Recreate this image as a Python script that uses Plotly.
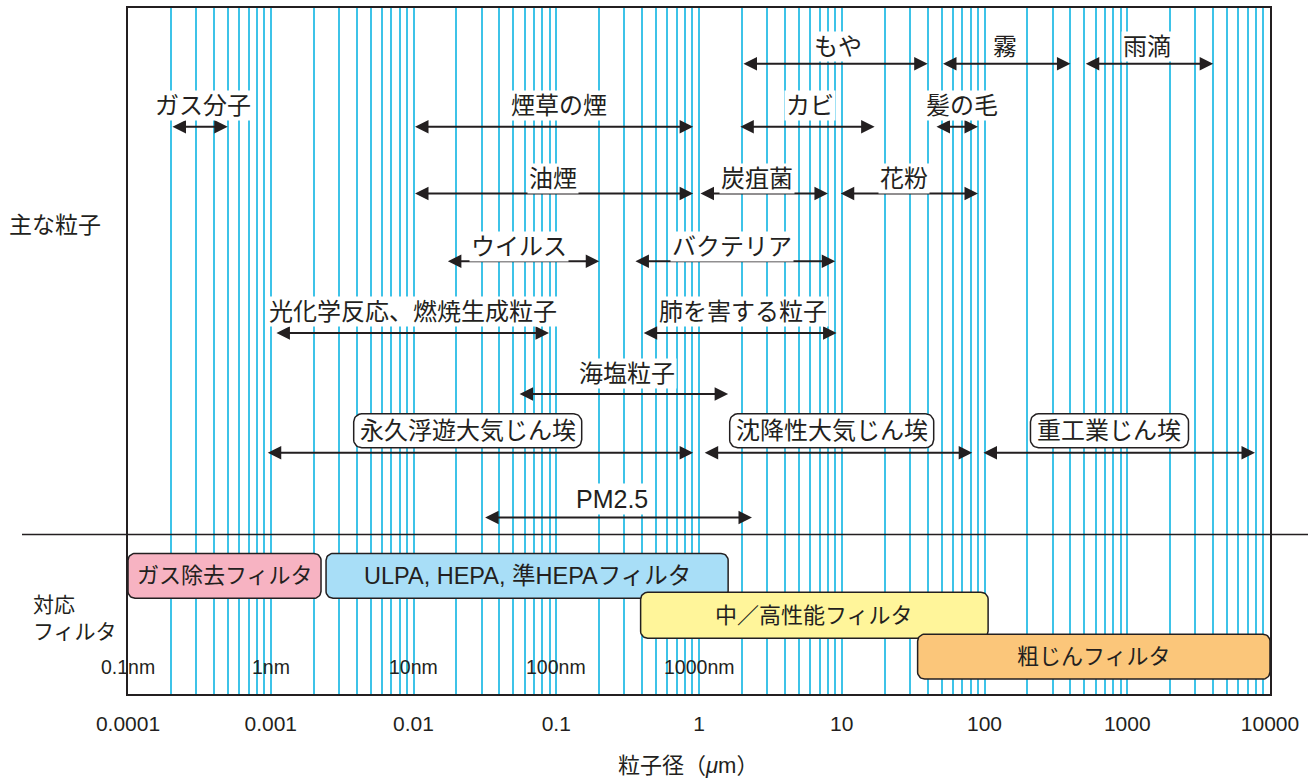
import numpy as np
import plotly.graph_objects as go

# ---------------- data ----------------
particle_names = ["もや", "霧", "雨滴",
                  "ガス分子", "煙草の煙", "カビ", "髪の毛",
                  "油煙", "炭疽菌", "花粉",
                  "ウイルス", "バクテリア",
                  "光化学反応、燃焼生成粒子", "肺を害する粒子",
                  "海塩粒子",
                  "永久浮遊大気じん埃", "沈降性大気じん埃", "重工業じん埃",
                  "PM2.5"]
particle_min_um = [2, 50, 500,
                   0.0002, 0.01, 1.9, 45,
                   0.01, 1.0, 9.6,
                   0.017, 0.35,
                   0.00107, 0.4,
                   0.054,
                   0.00093, 1.07, 96,
                   0.031]
particle_max_um = [40, 400, 4000,
                   0.0005, 0.91, 17, 90,
                   0.91, 8, 90,
                   0.2, 9,
                   0.089, 9.2,
                   1.6,
                   0.91, 82, 7850,
                   2.35]
particle_row = [0, 0, 0,
                1, 1, 1, 1,
                2, 2, 2,
                3, 3,
                4, 4,
                5,
                6, 6, 6,
                7]
boxed_names = ["永久浮遊大気じん埃", "沈降性大気じん埃", "重工業じん埃"]

filter_names = ["ガス除去フィルタ", "ULPA, HEPA, 準HEPAフィルタ", "中／高性能フィルタ", "粗じんフィルタ"]
filter_min_um = [0.0001, 0.00244, 0.39, 34]
filter_max_um = [0.00225, 1.6, 106, 10000]
filter_colors = ["#F7B3C2", "#A8DEF7", "#FFF59A", "#FBC67A"]

tick_decades = [1e-4, 1e-3, 1e-2, 1e-1, 1, 10, 100, 1000, 10000]
tick_labels = ["0.0001", "0.001", "0.01", "0.1", "1", "10", "100", "1000", "10000"]
nm_positions_um = [1e-4, 1e-3, 1e-2, 1e-1, 1]
nm_labels = ["0.1nm", "1nm", "10nm", "100nm", "1000nm"]

# ---------------- layout / style ----------------
W, H = 1314, 782
ML, MR, MT, MB = 128, 44, 6, 88
PX_PER_DECADE = (W - ML - MR) / 8.0
row_arrow_y = [62, 125, 192, 260, 332, 393, 452, 517]
row_label_y = [45, 104, 177, 245, 310, 373, 430, 498]
label_xshift = {"もや": 3, "霧": -1, "雨滴": -2, "ガス分子": 4, "煙草の煙": 6, "カビ": 3,
                "髪の毛": 6, "油煙": 0, "炭疽菌": -6, "花粉": -5, "ウイルス": -4,
                "バクテリア": -3, "光化学反応、燃焼生成粒子": 1, "肺を害する粒子": 4,
                "海塩粒子": 4, "永久浮遊大気じん埃": -12, "沈降性大気じん埃": -6,
                "重工業じん埃": -9, "PM2.5": -6}
label_size = {"PM2.5": 25}
boxed_width_px = {"永久浮遊大気じん埃": 228, "沈降性大気じん埃": 204, "重工業じん埃": 158}
boxed_height = (413, 447)
filter_rows = [(553, 598), (553, 598), (592, 638), (634, 679)]
filter_text_size = [22, 23.5, 22, 22]

INK = "#231F20"
GRID = "#3EC3E8"
JP = "Noto Sans CJK JP"
LAT = "Liberation Sans, Arial, Noto Sans CJK JP"


def rounded_rect(lx0, lx1, y0, y1, r_px=7, n=10):
    rx = r_px / PX_PER_DECADE
    ry = r_px
    t = np.linspace(0, np.pi / 2, n)
    xs, ys = [], []
    cx, cy = lx1 - rx, y0 + ry
    xs += list(cx + rx * np.sin(t)); ys += list(cy - ry * np.cos(t))
    cx, cy = lx1 - rx, y1 - ry
    xs += list(cx + rx * np.cos(t)); ys += list(cy + ry * np.sin(t))
    cx, cy = lx0 + rx, y1 - ry
    xs += list(cx - rx * np.sin(t)); ys += list(cy + ry * np.cos(t))
    cx, cy = lx0 + rx, y0 + ry
    xs += list(cx - rx * np.cos(t)); ys += list(cy - ry * np.sin(t))
    xs.append(xs[0]); ys.append(ys[0])
    return [10 ** v for v in xs], ys


fig = go.Figure()
annotations = []

# filter boxes
for i, (name, lo, hi, col) in enumerate(zip(filter_names, filter_min_um, filter_max_um,
                                            filter_colors)):
    y0, y1 = filter_rows[i]
    xs, ys = rounded_rect(np.log10(lo), np.log10(hi), y0, y1)
    fig.add_trace(go.Scatter(x=xs, y=ys, mode="lines", fill="toself", fillcolor=col,
                             line=dict(color=INK, width=1.5), hoverinfo="skip",
                             showlegend=False))
    annotations.append(dict(x=(np.log10(lo) + np.log10(hi)) / 2, y=(y0 + y1) / 2,
                            xref="x", yref="y", text=name, showarrow=False,
                            font=dict(family=LAT, size=filter_text_size[i], color=INK)))

# boxed label frames
for name, lo, hi, row in zip(particle_names, particle_min_um, particle_max_um, particle_row):
    if name in boxed_names:
        cx = (np.log10(lo) + np.log10(hi)) / 2 + label_xshift[name] / PX_PER_DECADE
        hw = boxed_width_px[name] / 2 / PX_PER_DECADE
        xs, ys = rounded_rect(cx - hw, cx + hw, boxed_height[0], boxed_height[1], r_px=8)
        fig.add_trace(go.Scatter(x=xs, y=ys, mode="lines", fill="toself", fillcolor="white",
                                 line=dict(color=INK, width=1.5), hoverinfo="skip",
                                 showlegend=False))

# arrows and labels
for name, lo, hi, row in zip(particle_names, particle_min_um, particle_max_um, particle_row):
    ya = row_arrow_y[row]
    annotations.append(dict(x=np.log10(hi), y=ya, ax=np.log10(lo), ay=ya,
                            xref="x", yref="y", axref="x", ayref="y", text="",
                            showarrow=True, arrowhead=2, arrowside="end+start",
                            arrowsize=1.35, arrowwidth=2, arrowcolor=INK,
                            standoff=0, startstandoff=0))
    boxed = name in boxed_names
    annotations.append(dict(x=(np.log10(lo) + np.log10(hi)) / 2, y=row_label_y[row],
                            xshift=label_xshift[name], xref="x", yref="y", text=name,
                            showarrow=False, bgcolor=None if boxed else "white",
                            borderpad=1,
                            font=dict(family=LAT, size=label_size.get(name, 24), color=INK)))

# nm labels
for pos, lab in zip(nm_positions_um, nm_labels):
    annotations.append(dict(x=np.log10(pos), y=667, xref="x", yref="y", text=lab,
                            showarrow=False, font=dict(family=LAT, size=19.5, color=INK)))

# left side labels
annotations.append(dict(x=0, xref="paper", xanchor="left", xshift=-121, y=222, yref="y",
                        text="主な粒子", showarrow=False,
                        font=dict(family=JP, size=23, color=INK)))
annotations.append(dict(x=0, xref="paper", xanchor="left", xshift=-97, y=616, yref="y",
                        text="対応<br>フィルタ", align="left", showarrow=False,
                        font=dict(family=JP, size=21, color=INK)))
# axis title
annotations.append(dict(x=0.5, xref="paper", xshift=-11, y=0, yref="paper", yanchor="middle",
                        yshift=-71, text="粒子径（<i>μ</i>m）", showarrow=False,
                        font=dict(family=LAT, size=22, color=INK)))

# grid tick values (1..9 x 10^n)
grid_vals, grid_text = [], []
for d, lab in zip(tick_decades, tick_labels):
    grid_vals.append(d); grid_text.append(lab)
    if d < 10000:
        for k in range(2, 10):
            grid_vals.append(k * d); grid_text.append("")

fig.update_layout(
    width=W, height=H,
    margin=dict(l=ML, r=MR, t=MT, b=MB),
    paper_bgcolor="white", plot_bgcolor="white",
    showlegend=False,
    annotations=annotations,
    shapes=[dict(type="line", xref="paper", yref="y", x0=-106 / (W - ML - MR),
                 x1=1 + 38 / (W - ML - MR), y0=534, y1=534,
                 line=dict(color=INK, width=1.5))],
    xaxis=dict(type="log", range=[-4, 4], tickmode="array", tickvals=grid_vals,
               ticktext=grid_text, showgrid=True, gridcolor=GRID, gridwidth=1.5,
               ticks="outside", ticklen=10, tickcolor="rgba(0,0,0,0)",
               tickfont=dict(family=LAT, size=21, color=INK),
               showline=True, mirror=True, linecolor=INK, linewidth=1.5,
               zeroline=False, fixedrange=True),
    yaxis=dict(range=[694, 6], showgrid=False, zeroline=False, showticklabels=False,
               ticks="", showline=True, mirror=True, linecolor=INK, linewidth=1.5,
               fixedrange=True),
)

fig.write_html("out.html", config={"displayModeBar": False},
               post_script="document.body.style.margin='0px';")
